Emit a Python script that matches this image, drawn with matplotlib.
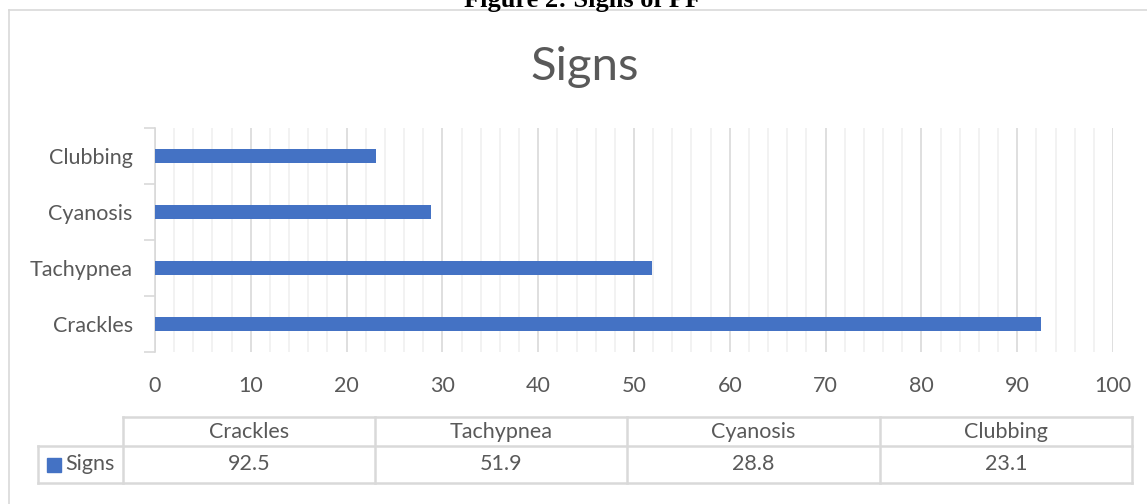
import matplotlib
matplotlib.use("Agg")
import matplotlib.pyplot as plt
import numpy as np

# Data
categories = ["Crackles", "Tachypnea", "Cyanosis", "Clubbing"]
values = [92.5, 51.9, 28.8, 23.1]
series_name = "Signs"
xticks = [0, 10, 20, 30, 40, 50, 60, 70, 80, 90, 100]

BAR = "#4472C4"
TXT = "#595959"
GRID = "#d9d9d9"
MINOR = "#f0f0f0"
FONT = ["Lato", "DejaVu Sans"]
FS = 15.5

W, H = 1147, 504
fig = plt.figure(figsize=(W / 100, H / 100), dpi=100)
plt.rcParams["font.family"] = FONT

# Full-figure overlay in pixel coordinates for frame, caption and data table
ov = fig.add_axes([0, 0, 1, 1])
ov.set_xlim(0, W)
ov.set_ylim(H, 0)
ov.axis("off")

ov.plot([9, 9], [10, H], color=GRID, lw=1.2)
ov.plot([9, W], [10, 10], color=GRID, lw=1.2)
ov.text(583, 7, "Figure 2: Signs of PF", ha="center", va="baseline",
        fontsize=19, fontweight="bold", family=["Liberation Serif"], color="black")

ov.text(585, 80, series_name, ha="center", va="baseline", fontsize=34,
        color=TXT, fontweight="normal")

# Bar chart
ax = fig.add_axes([155 / W, 1 - 352 / H, 958 / W, 224 / H])
pos = np.arange(len(categories))
ax.barh(pos, values, height=0.25, color=BAR, zorder=3)
ax.set_xlim(0, 100)
ax.set_ylim(-0.5, len(categories) - 0.5)
ax.set_xticks(xticks)
ax.set_xticks(np.arange(0, 101, 2), minor=True)
ax.grid(axis="x", which="minor", color=MINOR, lw=1.2, zorder=0)
ax.grid(axis="x", which="major", color=GRID, lw=1.2, zorder=1)
ax.set_yticks(pos)
ax.set_yticklabels(categories)
ax.set_yticks(np.arange(-0.5, len(categories), 1.0), minor=True)
ax.tick_params(axis="y", which="major", length=0, pad=16, labelsize=FS, labelcolor=TXT)
ax.tick_params(axis="y", which="minor", length=8, color=GRID, width=1.2)
ax.tick_params(axis="x", which="both", length=0, pad=17, labelsize=FS, labelcolor=TXT)
for s in ["top", "right", "bottom"]:
    ax.spines[s].set_visible(False)
ax.spines["left"].set_color(GRID)
ax.spines["left"].set_linewidth(1.2)

# Data table beneath the chart
col_edges = [123, 375, 627, 880, 1132]
leg_left = 38
r0, r1, r2 = 417, 446, 483
lw = 1.8
ov.plot([col_edges[0], col_edges[-1]], [r0, r0], color=GRID, lw=lw)
ov.plot([leg_left, col_edges[-1]], [r1, r1], color=GRID, lw=lw)
ov.plot([leg_left, col_edges[-1]], [r2, r2], color=GRID, lw=lw)
ov.plot([leg_left, leg_left], [r1, r2], color=GRID, lw=lw)
for x in col_edges:
    ov.plot([x, x], [r0, r2], color=GRID, lw=lw)
for i, (cat, v) in enumerate(zip(categories, values)):
    cx = (col_edges[i] + col_edges[i + 1]) / 2
    ov.text(cx, (r0 + r1) / 2, cat, ha="center", va="center", fontsize=FS, color=TXT)
    ov.text(cx, (r1 + r2) / 2, f"{v:g}", ha="center", va="center", fontsize=FS, color=TXT)
ov.add_patch(plt.Rectangle((47, 458), 14, 14, color=BAR))
ov.text(65, (r1 + r2) / 2, series_name, ha="left", va="center", fontsize=FS, color=TXT)

fig.savefig("out.png", dpi=100)
